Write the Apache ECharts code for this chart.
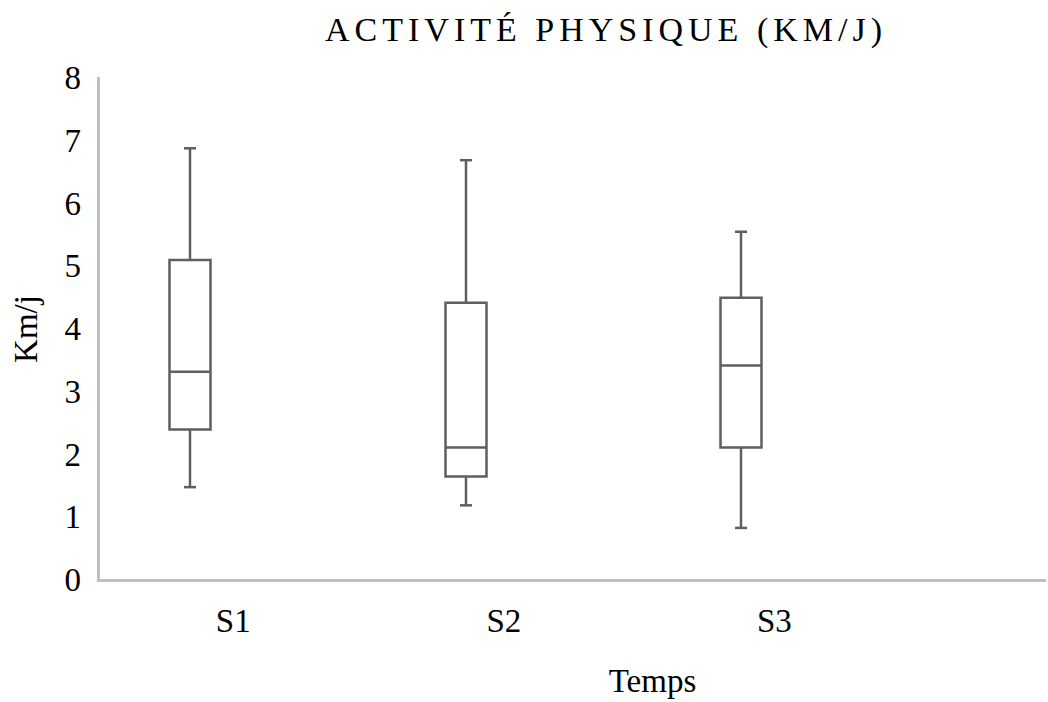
<!DOCTYPE html>
<html>
<head>
<meta charset="utf-8">
<title>Activité physique</title>
<script src="https://cdn.jsdelivr.net/npm/echarts@6/dist/echarts.min.js"></script>
<style>
  html, body { margin: 0; padding: 0; background: #fff; }
  #chart { width: 1048px; height: 702px; }
</style>
</head>
<body>
<div id="chart"></div>
<script>
// données
var categories = ['S1', 'S2', 'S3'];
var minVals = [1.48, 1.19, 0.83];
var q1Vals = [2.40, 1.65, 2.11];
var medianVals = [3.32, 2.11, 3.42];
var q3Vals = [5.10, 4.42, 4.50];
var maxVals = [6.88, 6.69, 5.55];

var titleText = 'ACTIVITÉ PHYSIQUE (KM/J)';
var xName = 'Temps';
var yName = 'Km/j';

// boîtes légèrement décalées à gauche des libellés (comme sur l'original)
var BOX_START = 0.34;
var BOX_STEP = 1.019;
var BOX_WIDTH = 41;
var CAP_WIDTH = 12;
var FONT = 'Liberation Serif, Times New Roman, serif';
var FONT_SIZE = 33;
var LINE_COLOR = '#5f5f5f';

var boxData = categories.map(function (c, i) {
    return [i, minVals[i], q1Vals[i], medianVals[i], q3Vals[i], maxVals[i]];
});

var chart = echarts.init(document.getElementById('chart'), null, { renderer: 'svg' });

chart.setOption({
    animation: false,
    title: {
        text: titleText,
        left: 601,
        top: 7,
        textAlign: 'center',
        textStyle: {
            fontFamily: FONT,
            fontWeight: 'normal',
            fontSize: 34,
            color: '#000'
        }
    },
    grid: {
        left: 98,
        right: 0,
        top: 78,
        bottom: 121
    },
    xAxis: {
        type: 'value',
        min: 0,
        max: 3.5,
        interval: 0.5,
        name: xName,
        nameLocation: 'middle',
        nameGap: 84,
        nameTextStyle: {
            fontFamily: FONT,
            fontSize: FONT_SIZE,
            color: '#000',
            padding: [0, 0, 0, 162]
        },
        axisLine: { show: true, lineStyle: { color: '#bfbfbf', width: 3 } },
        axisTick: { show: false },
        splitLine: { show: false },
        axisLabel: {
            margin: 24,
            fontFamily: FONT,
            fontSize: FONT_SIZE,
            color: '#000',
            formatter: function (v) {
                if (Math.abs(v % 1 - 0.5) < 1e-6) {
                    return categories[Math.floor(v)] || '';
                }
                return '';
            }
        }
    },
    yAxis: {
        type: 'value',
        min: 0,
        max: 8,
        interval: 1,
        name: yName,
        nameLocation: 'middle',
        nameGap: 56,
        nameTextStyle: {
            fontFamily: FONT,
            fontSize: FONT_SIZE,
            color: '#000'
        },
        axisLine: { show: true, lineStyle: { color: '#bfbfbf', width: 3 } },
        axisTick: { show: false },
        splitLine: { show: false },
        axisLabel: {
            margin: 17,
            fontFamily: FONT,
            fontSize: FONT_SIZE,
            color: '#000'
        }
    },
    series: [{
        type: 'custom',
        clip: false,
        data: boxData,
        renderItem: function (params, api) {
            var x = BOX_START + api.value(0) * BOX_STEP;
            var pMin = api.coord([x, api.value(1)]);
            var pQ1 = api.coord([x, api.value(2)]);
            var pMed = api.coord([x, api.value(3)]);
            var pQ3 = api.coord([x, api.value(4)]);
            var pMax = api.coord([x, api.value(5)]);
            var cx = Math.round(pMin[0]);
            var hw = BOX_WIDTH / 2;
            var hc = CAP_WIDTH / 2;
            var stroke = { stroke: LINE_COLOR, lineWidth: 2.5, fill: null };
            return {
                type: 'group',
                children: [
                    { type: 'line', shape: { x1: cx, y1: pMax[1], x2: cx, y2: pQ3[1] }, style: stroke },
                    { type: 'line', shape: { x1: cx - hc, y1: pMax[1], x2: cx + hc, y2: pMax[1] }, style: stroke },
                    { type: 'line', shape: { x1: cx, y1: pQ1[1], x2: cx, y2: pMin[1] }, style: stroke },
                    { type: 'line', shape: { x1: cx - hc, y1: pMin[1], x2: cx + hc, y2: pMin[1] }, style: stroke },
                    {
                        type: 'rect',
                        shape: { x: cx - hw, y: pQ3[1], width: BOX_WIDTH, height: pQ1[1] - pQ3[1] },
                        style: { stroke: LINE_COLOR, lineWidth: 2.5, fill: '#fff' }
                    },
                    { type: 'line', shape: { x1: cx - hw, y1: pMed[1], x2: cx + hw, y2: pMed[1] }, style: stroke }
                ]
            };
        }
    }]
});

// espacement des lettres du titre
function spaceTitle() {
    var texts = chart.getDom().querySelectorAll('text');
    for (var i = 0; i < texts.length; i++) {
        if (texts[i].textContent === titleText) {
            texts[i].setAttribute('letter-spacing', '5px');
        }
    }
}
spaceTitle();
chart.on('finished', spaceTitle);
</script>
</body>
</html>
